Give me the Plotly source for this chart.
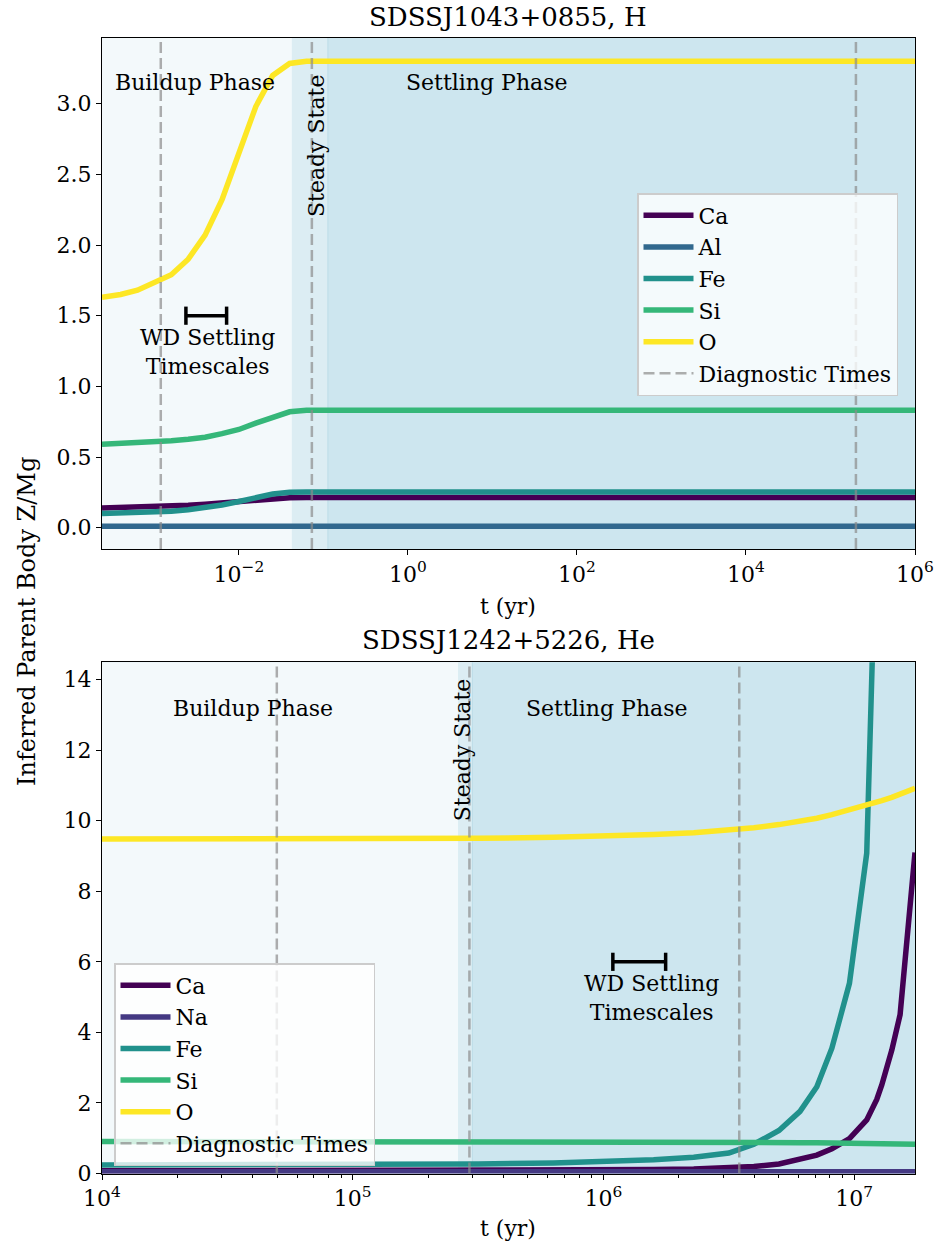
import plotly.graph_objects as go

FONT = "DejaVu Serif"
W, H = 937, 1245

# ---------------- Top panel: SDSSJ1043+0855, H ----------------
TOP_TITLE = "SDSSJ1043+0855, H"
TOP_LOG_T = [-3.62, -3.4, -3.2, -3.0, -2.8, -2.6, -2.4, -2.2, -2.0, -1.8, -1.6, -1.4, -1.2, 0.0, 2.0, 4.0, 6.0]
TOP_CA = [0.140, 0.142, 0.145, 0.148, 0.152, 0.158, 0.165, 0.175, 0.185, 0.197, 0.207, 0.212, 0.213, 0.213, 0.213, 0.213, 0.213]
TOP_AL = [0.010] * 17
TOP_FE = [0.100, 0.102, 0.105, 0.110, 0.117, 0.127, 0.140, 0.160, 0.185, 0.213, 0.238, 0.250, 0.252, 0.252, 0.252, 0.252, 0.252]
TOP_SI = [0.590, 0.595, 0.600, 0.605, 0.615, 0.625, 0.640, 0.665, 0.695, 0.740, 0.785, 0.820, 0.830, 0.830, 0.830, 0.830, 0.830]
TOP_O = [1.63, 1.65, 1.68, 1.73, 1.79, 1.90, 2.07, 2.32, 2.64, 2.98, 3.20, 3.285, 3.30, 3.30, 3.30, 3.30, 3.30]
TOP_SERIES = [("Ca", TOP_CA), ("Al", TOP_AL), ("Fe", TOP_FE), ("Si", TOP_SI), ("O", TOP_O)]
TOP_DIAG = [0.00119, 0.073, 2.0e5]
TOP_PHASES = [0.0424, 0.113]          # steady-state band start / end
TOP_XRANGE = [-3.62, 6.0]             # log10
TOP_YRANGE = [-0.151, 3.465]
TOP_WD_BAR = [0.00236, 0.00715]
TOP_WD_Y = 1.5

# ---------------- Bottom panel: SDSSJ1242+5226, He ----------------
BOT_TITLE = "SDSSJ1242+5226, He"
BOT_LOG_T = [4.0, 4.5, 5.0, 5.5, 5.8, 6.0, 6.2, 6.36, 6.5, 6.6, 6.7, 6.784, 6.851, 6.911, 6.981, 7.05, 7.09, 7.11, 7.15, 7.183, 7.215, 7.2425]
BOT_CA = [0.08, 0.08, 0.08, 0.085, 0.09, 0.10, 0.11, 0.13, 0.16, 0.20, 0.27, 0.40, 0.52, 0.70, 0.99, 1.52, 2.10, 2.51, 3.50, 4.50, 7.20, 9.10]
BOT_NA = [0.05] * 22
BOT_FE = [0.24, 0.245, 0.25, 0.27, 0.30, 0.34, 0.39, 0.46, 0.58, 0.83, 1.22, 1.76, 2.46, 3.55, 5.39, 9.08, 14.46, 18.0, 27.0, 37.0, 50.0, 63.0]
BOT_SI = [0.91, 0.91, 0.91, 0.91, 0.91, 0.91, 0.905, 0.90, 0.895, 0.89, 0.88, 0.875, 0.87, 0.865, 0.86, 0.85, 0.845, 0.84, 0.84, 0.835, 0.83, 0.83]
BOT_O = [9.48, 9.48, 9.49, 9.50, 9.53, 9.56, 9.61, 9.66, 9.73, 9.80, 9.89, 9.98, 10.07, 10.17, 10.30, 10.43, 10.52, 10.57, 10.66, 10.74, 10.84, 10.92]
BOT_SERIES = [("Ca", BOT_CA), ("Na", BOT_NA), ("Fe", BOT_FE), ("Si", BOT_SI), ("O", BOT_O)]
BOT_DIAG = [4.98e4, 2.92e5, 3.48e6]
BOT_PHASES = [2.64e5, 3.0e5]
BOT_XRANGE = [4.0, 7.2425]
BOT_YRANGE = [0.0, 14.49]
BOT_WD_BAR = [1.09e6, 1.77e6]
BOT_WD_Y = 6.0

COLORS = {"Ca": "#440154", "Al": "#31688e", "Na": "#443983", "Fe": "#21918c",
          "Si": "#35b779", "O": "#fde725"}
C_BUILD = "#f3f9fb"
C_STEADY = "#dcedf3"
C_SETTLE = "#cde6ef"
C_DIAG = "rgba(140,140,140,0.7)"

TICK_SIZE = 22
TEXT_SIZE = 22
TITLE_SIZE = 26

fig = go.Figure()


def add_panel(series, log_t, diag, xa, ya, legend, yrange):
    t = [10 ** v for v in log_t]
    for name, vals in series:
        fig.add_trace(go.Scatter(
            x=t, y=vals, mode="lines", name=name,
            line=dict(color=COLORS[name], width=5.5),
            xaxis=xa, yaxis=ya, legend=legend, legendgroup=legend + name))
    dx, dy = [], []
    for d in diag:
        dx += [d, d, None]
        dy += [yrange[0], yrange[1], None]
    fig.add_trace(go.Scatter(
        x=dx, y=dy, mode="lines", name="Diagnostic Times",
        line=dict(color=C_DIAG, width=2.5, dash="11px,5px"),
        xaxis=xa, yaxis=ya, legend=legend, legendgroup=legend + "diag"))


def add_wd_bar(bar, yv, xa, ya):
    fig.add_trace(go.Scatter(
        x=bar, y=[yv, yv], mode="lines+markers", showlegend=False,
        line=dict(color="black", width=3.5),
        marker=dict(symbol="line-ns", size=13, line=dict(color="black", width=3.5)),
        xaxis=xa, yaxis=ya))


add_panel(TOP_SERIES, TOP_LOG_T, TOP_DIAG, "x", "y", "legend", TOP_YRANGE)
add_wd_bar(TOP_WD_BAR, TOP_WD_Y, "x", "y")
add_panel(BOT_SERIES, BOT_LOG_T, BOT_DIAG, "x2", "y2", "legend2", BOT_YRANGE)
add_wd_bar(BOT_WD_BAR, BOT_WD_Y, "x2", "y2")

shapes = []
for xref, yref, xr, ph in [("x", "y domain", TOP_XRANGE, TOP_PHASES),
                           ("x2", "y2 domain", BOT_XRANGE, BOT_PHASES)]:
    lo, hi = 10 ** xr[0], 10 ** xr[1]
    for x0, x1, c in [(lo, ph[0], C_BUILD), (ph[0], ph[1], C_STEADY), (ph[1], hi, C_SETTLE)]:
        shapes.append(dict(type="rect", xref=xref, yref=yref, x0=x0, x1=x1, y0=0, y1=1,
                           fillcolor=c, line=dict(width=0), layer="below"))
    shapes.append(dict(type="line", xref=xref, yref=yref, x0=ph[1], x1=ph[1], y0=0, y1=1,
                       line=dict(color="#bcdde8", width=1), layer="below"))

XDOM = [102 / W, 915 / W]
TOP_YDOM = [(H - 549) / H, (H - 38) / H]
BOT_YDOM = [(H - 1173.5) / H, (H - 662.3) / H]

axis_common = dict(showline=True, linecolor="black", linewidth=1.4, mirror=True,
                   ticks="outside", ticklen=5, tickwidth=1.3, tickcolor="black",
                   showgrid=False, zeroline=False, automargin=False,
                   tickfont=dict(family=FONT, size=TICK_SIZE, color="black"))

TOP_XTICKS = [-2, 0, 2, 4, 6]
BOT_XTICKS = [4, 5, 6, 7]


def sup_label(e):
    s = str(e).replace("-", "\u2212")
    return "10<sup>" + s + "</sup>"


BOT_MINOR = [m * 10 ** e for e in [4, 5, 6] for m in range(2, 10)] + [2e7]

legend_common = dict(xanchor="left", yanchor="top",
                     bgcolor="rgba(255,255,255,0.78)", bordercolor="#cccccc", borderwidth=1.5,
                     font=dict(family=FONT, size=TEXT_SIZE, color="black"),
                     traceorder="grouped", tracegroupgap=0, itemwidth=50)

fig.update_layout(
    width=W, height=H, margin=dict(l=0, r=0, t=0, b=0, autoexpand=False),
    paper_bgcolor="white", plot_bgcolor=C_SETTLE,
    font=dict(family=FONT, color="black"),
    xaxis=dict(axis_common, domain=XDOM, anchor="y", type="log", range=TOP_XRANGE,
               tickmode="array", tickvals=[10 ** e for e in TOP_XTICKS],
               ticktext=[sup_label(e) for e in TOP_XTICKS]),
    yaxis=dict(axis_common, domain=TOP_YDOM, anchor="x", range=TOP_YRANGE,
               tickmode="array", tickvals=[0, 0.5, 1, 1.5, 2, 2.5, 3],
               ticktext=["0.0", "0.5", "1.0", "1.5", "2.0", "2.5", "3.0"]),
    xaxis2=dict(axis_common, domain=XDOM, anchor="y2", type="log", range=BOT_XRANGE,
                tickmode="array", tickvals=[10 ** e for e in BOT_XTICKS],
                ticktext=[sup_label(e) for e in BOT_XTICKS],
                minor=dict(tickmode="array", tickvals=BOT_MINOR, ticks="outside",
                           ticklen=3, tickwidth=1, tickcolor="black")),
    yaxis2=dict(axis_common, domain=BOT_YDOM, anchor="x2", range=BOT_YRANGE,
                tickmode="array", tickvals=[0, 2, 4, 6, 8, 10, 12, 14]),
    shapes=shapes,
    legend=dict(legend_common, x=637 / W, y=(H - 193) / H),
    legend2=dict(legend_common, x=114 / W, y=(H - 963) / H),
    showlegend=True,
)

ann = []
tf = dict(family=FONT, size=TEXT_SIZE, color="black")
# panel titles
ann.append(dict(text=TOP_TITLE, xref="paper", yref="paper", x=508.5 / W, y=(H - 17) / H,
                showarrow=False, font=dict(family=FONT, size=TITLE_SIZE, color="black"),
                xanchor="center", yanchor="middle"))
ann.append(dict(text=BOT_TITLE, xref="paper", yref="paper", x=508.5 / W, y=(H - 640) / H,
                showarrow=False, font=dict(family=FONT, size=TITLE_SIZE, color="black"),
                xanchor="center", yanchor="middle"))
# x-axis titles
for yy in [606, 1228]:
    ann.append(dict(text="t (yr)", xref="paper", yref="paper", x=508.5 / W, y=(H - yy) / H,
                    showarrow=False, font=tf, xanchor="center", yanchor="middle"))
# shared y title
ann.append(dict(text="Inferred Parent Body Z/Mg", xref="paper", yref="paper",
                x=27 / W, y=(H - 622) / H, textangle=-90, showarrow=False,
                font=dict(family=FONT, size=24, color="black"),
                xanchor="center", yanchor="middle"))
# phase labels and timescale notes
ann += [
    dict(text="Buildup Phase", xref="x", yref="y", x=-2.52, y=3.15, showarrow=False, font=tf),
    dict(text="Settling Phase", xref="x", yref="y", x=0.935, y=3.15, showarrow=False, font=tf),
    dict(text="Steady State", xref="x", yref="y", x=-1.089, y=2.70, textangle=-90,
         showarrow=False, font=tf),
    dict(text="WD Settling<br>Timescales", xref="x", yref="y", x=-2.367, y=1.245,
         showarrow=False, font=tf),
    dict(text="Buildup Phase", xref="x2", yref="y2", x=4.602, y=13.19, showarrow=False, font=tf),
    dict(text="Settling Phase", xref="x2", yref="y2", x=6.014, y=13.19, showarrow=False, font=tf),
    dict(text="Steady State", xref="x2", yref="y2", x=5.436, y=12.0, textangle=-90,
         showarrow=False, font=tf),
    dict(text="WD Settling<br>Timescales", xref="x2", yref="y2", x=6.19, y=4.98,
         showarrow=False, font=tf),
]
fig.update_layout(annotations=ann)

fig.write_html("out.html")
